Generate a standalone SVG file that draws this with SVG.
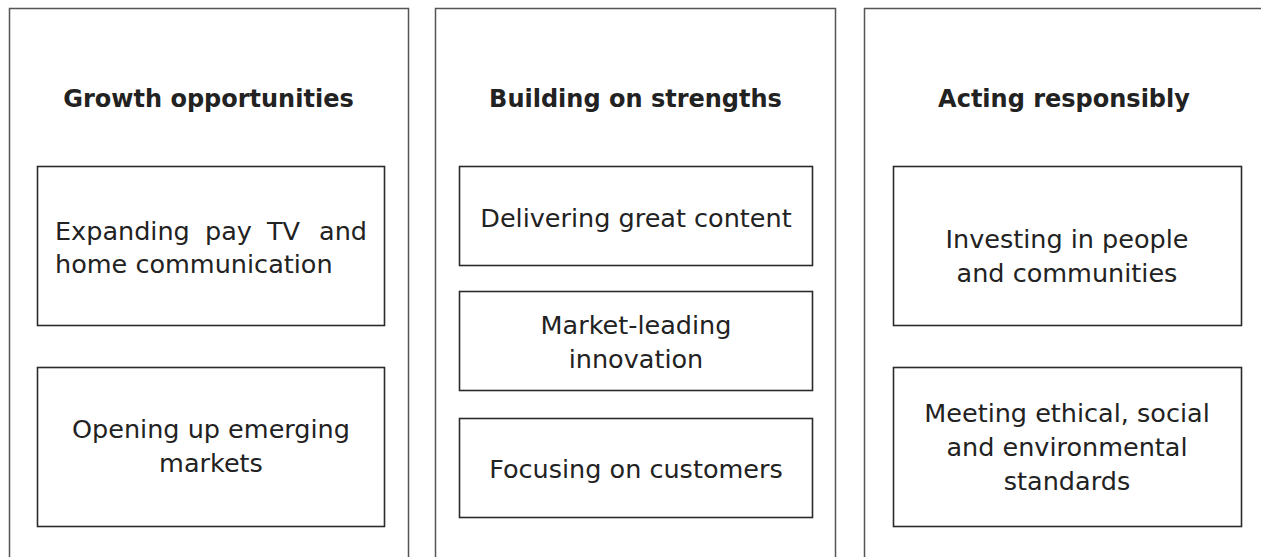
<svg xmlns="http://www.w3.org/2000/svg" width="1261" height="557" viewBox="0 0 1261 557">
<style>
.outer{fill:none;stroke:#555;stroke-width:1.5}
.box{fill:#fff;stroke:#2b2b2b;stroke-width:1.6}
.title{font-family:"DejaVu Sans",sans-serif;font-weight:bold;font-size:24px;fill:#222;text-anchor:middle}
.txt{font-family:"DejaVu Sans",sans-serif;font-size:25.5px;fill:#222;text-anchor:middle}
.just{text-anchor:start}
</style>
<rect width="1261" height="557" fill="#fff"/>
<g id="col-growth">
<path class="outer" d="M9.5,560 V8.5 H408.5 V560"/>
<text class="title" x="208.5" y="107">Growth opportunities</text>
</g>
<g id="col-strengths">
<path class="outer" d="M435.5,560 V8.5 H835.5 V560"/>
<text class="title" x="635.5" y="107">Building on strengths</text>
</g>
<g id="col-responsibly">
<path class="outer" d="M864.5,560 V8.5 H1265"/>
<text class="title" x="1064" y="107">Acting responsibly</text>
</g>
<g id="n-expanding">
<rect class="box" x="37.5" y="166.5" width="347" height="159"/>
<text class="txt just" y="240"><tspan x="55">Expanding</tspan><tspan x="205">pay</tspan><tspan x="267">TV</tspan><tspan x="319">and</tspan></text>
<text class="txt just" x="55" y="273">home communication</text>
</g>
<g id="n-emerging">
<rect class="box" x="37.5" y="367.5" width="347" height="159"/>
<text class="txt" x="211" y="438">Opening up emerging</text>
<text class="txt" x="211" y="472">markets</text>
</g>
<g id="n-content">
<rect class="box" x="459.5" y="166.5" width="353" height="99"/>
<text class="txt" x="636" y="227">Delivering great content</text>
</g>
<g id="n-innovation">
<rect class="box" x="459.5" y="291.5" width="353" height="99"/>
<text class="txt" x="636" y="334">Market-leading</text>
<text class="txt" x="636" y="368">innovation</text>
</g>
<g id="n-customers">
<rect class="box" x="459.5" y="418.5" width="353" height="99"/>
<text class="txt" x="636" y="478">Focusing on customers</text>
</g>
<g id="n-people">
<rect class="box" x="893.5" y="166.5" width="348" height="159"/>
<text class="txt" x="1067" y="248">Investing in people</text>
<text class="txt" x="1067" y="282">and communities</text>
</g>
<g id="n-standards">
<rect class="box" x="893.5" y="367.5" width="348" height="159"/>
<text class="txt" x="1067" y="422">Meeting ethical, social</text>
<text class="txt" x="1067" y="456">and environmental</text>
<text class="txt" x="1067" y="490">standards</text>
</g>
<g id="connectors"></g>
</svg>
